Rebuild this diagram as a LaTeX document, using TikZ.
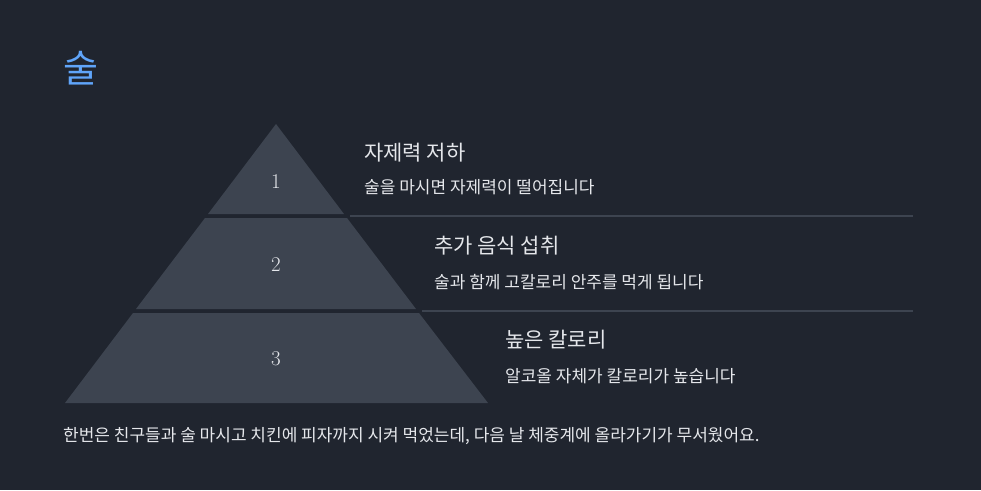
\documentclass[tikz,border=0pt]{standalone}
\usepackage{fontspec}
\newfontfamily\kr{Noto Sans CJK KR}
\definecolor{bg}{HTML}{20252F}
\definecolor{tier}{HTML}{3D4450}
\definecolor{txt}{HTML}{E5E7EB}
\definecolor{ttl}{HTML}{60A5FA}
\definecolor{ln}{HTML}{3D4450}
\begin{document}
\begin{tikzpicture}[x=1pt,y=-1pt,
  head/.style={anchor=west,text=txt,font=\kr\fontsize{21}{24}\selectfont,inner sep=0},
  sub/.style={anchor=west,text=txt,font=\kr\fontsize{17}{20}\selectfont,inner sep=0},
  num/.style={text=txt,font=\fontsize{21}{22}\selectfont,inner sep=0},
  sep/.style={draw=ln,line width=1.5pt}]
\fill[bg] (0,0) rectangle (981,490);
\useasboundingbox (0,0) rectangle (981,490);
\node[anchor=west,text=ttl,font=\kr\fontsize{38}{40}\selectfont,inner sep=0] (title) at (63,68) {술};
\fill[tier] (276,124) -- (344,214) -- (208,214) -- cycle;
\fill[tier] (347,218) -- (416,309) -- (136,309) -- (205,218) -- cycle;
\fill[tier] (419,313) -- (488,403) -- (65,403) -- (133,313) -- cycle;
\node[num] (n1) at (276,182) {1};
\node[num] (n2) at (276,265) {2};
\node[num] (n3) at (276,359) {3};
\coordinate (a1) at (350,216); \coordinate (b1) at (913,216);
\coordinate (a2) at (422,311); \coordinate (b2) at (913,311);
\draw[sep] (a1) -- (b1);
\draw[sep] (a2) -- (b2);
\node[head] (h1) at (364,153) {자제력 저하};
\node[sub] (s1) at (364,187) {술을 마시면 자제력이 떨어집니다};
\node[head] (h2) at (434,246) {추가 음식 섭취};
\node[sub] (s2) at (434,282) {술과 함께 고칼로리 안주를 먹게 됩니다};
\node[head] (h3) at (505,340) {높은 칼로리};
\node[sub] (s3) at (505,376) {알코올 자체가 칼로리가 높습니다};
\node[sub] (foot) at (63,436) {한번은 친구들과 술 마시고 치킨에 피자까지 시켜 먹었는데, 다음 날 체중계에 올라가기가 무서웠어요.};
\end{tikzpicture}
\end{document}
